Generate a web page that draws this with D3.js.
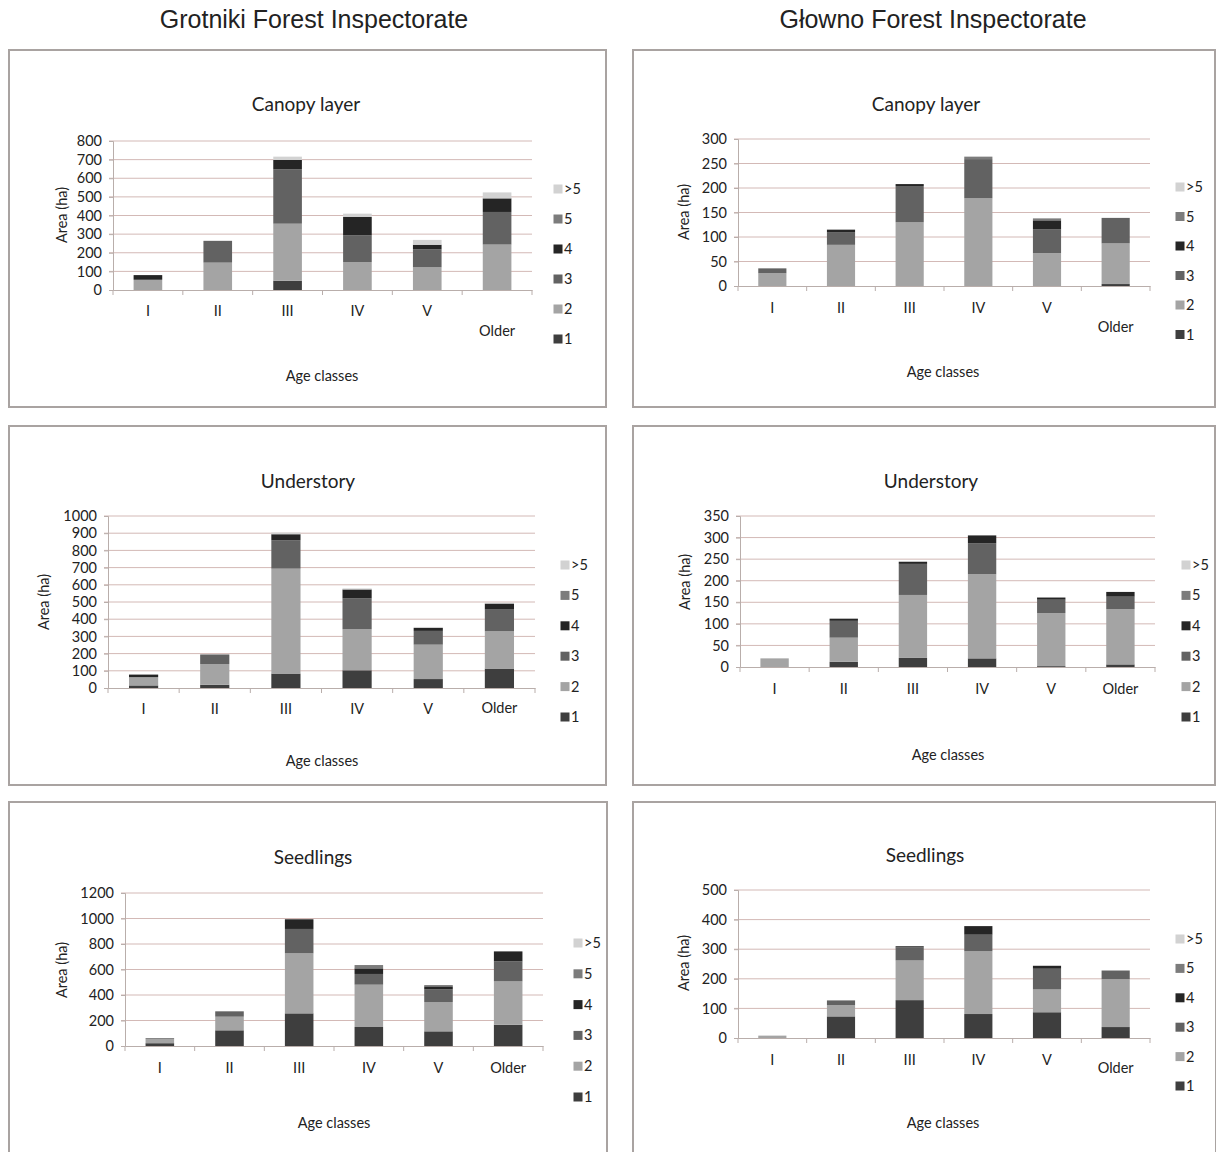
<!DOCTYPE html>
<html><head><meta charset="utf-8">
<script src="https://cdn.jsdelivr.net/npm/d3@7"></script>
<style>
body{margin:0;background:#fff;}
svg text{font-family:Lato,"Open Sans",sans-serif;fill:#222;}
</style></head>
<body>
<svg id="c" width="1216" height="1152"></svg>
<script>
// ---------- DATA ----------
const categories = ["I","II","III","IV","V","Older"];
const seriesKeys = ["1","2","3","4","5",">5"];
const legendOrder = [">5","5","4","3","2","1"];
const inspectorates = ["Grotniki Forest Inspectorate","Głowno Forest Inspectorate"];
const layerTitles = ["Canopy layer","Understory","Seedlings"];
const yAxisTitle = "Area (ha)";
const xAxisTitle = "Age classes";

// values per age class: [1, 2, 3, 4, 5, >5]
const grotnikiCanopy = [
  [0,55,0,25,0,0],
  [0,147,117,0,0,0],
  [50,306,292,50,0,18],
  [0,150,143,99,0,18],
  [0,122,96,25,0,26],
  [0,244,175,73,0,32]
];
const glownoCanopy = [
  [0,26,10,0,0,0],
  [0,84,26,5,0,0],
  [0,130,74,4,0,0],
  [0,179,80,0,5,0],
  [0,67,49,18,4,0],
  [4,83,52,0,0,0]
];
const grotnikiUnderstory = [
  [15,48,0,15,0,0],
  [19,120,56,0,0,0],
  [84,610,165,35,0,10],
  [103,239,179,52,0,6],
  [52,200,80,17,0,6],
  [113,217,126,35,0,5]
];
const glownoUnderstory = [
  [0,20,0,0,0,0],
  [12,56,39,5,0,0],
  [21,146,72,5,0,0],
  [20,195,72,18,0,0],
  [2,123,31,5,0,0],
  [6,128,29,11,0,0]
];
const grotnikiSeedlings = [
  [22,33,6,0,0,0],
  [123,107,42,0,0,0],
  [256,471,191,76,0,0],
  [149,332,84,44,26,0],
  [115,230,99,24,10,0],
  [167,340,157,78,0,0]
];
const glownoSeedlings = [
  [0,8,0,0,0,0],
  [73,38,16,0,0,0],
  [128,134,44,4,0,0],
  [81,212,56,29,0,0],
  [87,77,70,10,0,0],
  [37,162,29,0,0,0]
];
const yMaxes = [800,300,1000,350,1200,500];
const ySteps = [100,50,100,50,200,100];

// ---------- STYLE / LAYOUT ----------
const colors = {"1":"#3e3e3e","2":"#a4a4a4","3":"#626262","4":"#252525","5":"#7c7c7c",">5":"#d2d2d2"};

const panels = [
  {data:grotnikiCanopy, box:[9,50,606,407], L:113,R:532,T:141,B:290, title:[306,105], catY:311, olderDy:20, age:[322,376], area:[62,215], leg:[558,189,30]},
  {data:glownoCanopy, box:[633,50,1215,407], L:738,R:1150,T:139,B:286, title:[926,105], catY:308, olderDy:19, age:[943,372], area:[684,212], leg:[1180,187,29.5]},
  {data:grotnikiUnderstory, box:[9,426,606,785], L:108,R:535,T:516,B:688, title:[308,482], catY:709, olderDy:-1, age:[322,761], area:[44,602], leg:[565,565,30.4]},
  {data:glownoUnderstory, box:[633,426,1215,785], L:740,R:1155,T:516,B:667, title:[931,482], catY:689, olderDy:0, age:[948,755], area:[685,582], leg:[1186,565,30.4]},
  {data:grotnikiSeedlings, box:[9,802,607,1162], L:125,R:543,T:893,B:1046, title:[313,858], catY:1068, olderDy:0, age:[334,1123], area:[62,970], leg:[578,943,30.8]},
  {data:glownoSeedlings, box:[633,802,1216,1162], L:738,R:1150,T:890,B:1038, title:[925,856], catY:1060, olderDy:8, age:[943,1123], area:[684,963], leg:[1180,939,29.4]}
];

const svg = d3.select("#c");

// outer titles
svg.append("text").attr("x",314).attr("y",28).attr("text-anchor","middle")
  .style("font-family","'Liberation Sans',Arial,sans-serif").style("font-size","25px").text(inspectorates[0]);
svg.append("text").attr("x",933).attr("y",28).attr("text-anchor","middle")
  .style("font-family","'Liberation Sans',Arial,sans-serif").style("font-size","25px").text(inspectorates[1]);

panels.forEach((p,i)=>{
  const g = svg.append("g");
  const [x0,y0,x1,y1] = p.box;
  g.append("rect").attr("x",x0).attr("y",y0).attr("width",x1-x0).attr("height",y1-y0)
    .attr("fill","#fff").attr("stroke","#a9a3a1").attr("stroke-width",2);

  g.append("text").attr("x",p.title[0]).attr("y",p.title[1]+6).attr("text-anchor","middle")
    .style("font-size","19px").text(layerTitles[Math.floor(i/2)]);

  const x = d3.scaleBand().domain(categories).range([p.L,p.R]).padding(0);
  const y = d3.scaleLinear().domain([0,yMaxes[i]]).range([p.B,p.T]);
  const ticks = d3.range(0,yMaxes[i]+ySteps[i]/2,ySteps[i]);

  // gridlines
  g.selectAll("line.grid").data(ticks.filter(t=>t>0)).join("line")
    .attr("x1",p.L-4).attr("x2",p.R).attr("y1",d=>y(d)).attr("y2",d=>y(d))
    .attr("stroke","#d3b9b6").attr("stroke-width",1);

  // y axis
  const yAxis = d3.axisLeft(y).tickValues(ticks).tickFormat(d3.format("d")).tickSize(4).tickPadding(7);
  const ya = g.append("g").attr("transform",`translate(${p.L},0)`).call(yAxis);
  ya.select(".domain").attr("stroke","#b9aeab");
  ya.selectAll(".tick line").attr("stroke","#b9aeab");
  ya.selectAll(".tick text").style("font-size","14.5px").style("font-family","Lato,sans-serif").attr("fill","#1e1e1e");

  // stacked bars
  const rows = p.data.map((r,j)=>{const o={cat:categories[j]}; seriesKeys.forEach((k,m)=>o[k]=r[m]); return o;});
  const stacked = d3.stack().keys(seriesKeys)(rows);
  const bw = x.bandwidth()*0.41;
  g.selectAll("g.s").data(stacked).join("g").attr("fill",d=>colors[d.key])
    .selectAll("rect").data(d=>d).join("rect")
    .attr("x",d=>x(d.data.cat)+x.bandwidth()/2-bw/2)
    .attr("width",bw)
    .attr("y",d=>y(d[1]))
    .attr("height",d=>Math.max(0,y(d[0])-y(d[1])));

  // x axis
  const xAxis = d3.axisBottom(x).tickSize(0).tickPadding(0);
  const xa = g.append("g").attr("transform",`translate(0,${p.B})`).call(xAxis);
  xa.select(".domain").attr("stroke","#b9aeab");
  xa.selectAll(".tick text").attr("y",p.catY-p.B+5).attr("dy",0)
    .style("font-size","14.5px").style("font-family","Lato,sans-serif").attr("fill","#1e1e1e")
    .attr("transform",d=>d==="Older"?`translate(0,${p.olderDy})`:null);
  // category boundary tick marks
  const bounds = categories.map(c=>x(c)).concat([p.R]);
  g.selectAll("line.ct").data(bounds).join("line")
    .attr("x1",d=>d).attr("x2",d=>d).attr("y1",p.B).attr("y2",p.B+5)
    .attr("stroke","#b9aeab");

  // axis titles
  g.append("text").attr("transform",`translate(${p.area[0]+5},${p.area[1]}) rotate(-90)`)
    .attr("text-anchor","middle").style("font-size","14.5px").text(yAxisTitle);
  g.append("text").attr("x",p.age[0]).attr("y",p.age[1]+5).attr("text-anchor","middle")
    .style("font-size","14.5px").text(xAxisTitle);

  // legend
  const lg = g.append("g");
  legendOrder.forEach((k,m)=>{
    const ly = p.leg[1]+m*p.leg[2];
    lg.append("rect").attr("x",p.leg[0]-4.5).attr("y",ly-4.5).attr("width",9).attr("height",9).attr("fill",colors[k]);
    lg.append("text").attr("x",p.leg[0]+6).attr("y",ly+5).style("font-size","14.5px").text(k);
  });
});
</script>
</body></html>
